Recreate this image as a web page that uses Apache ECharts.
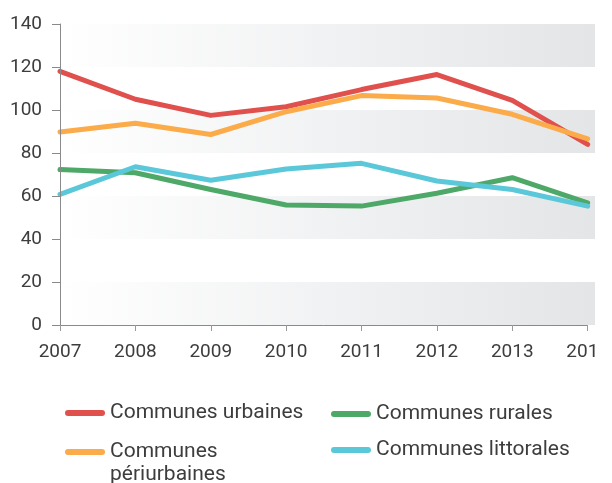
<!DOCTYPE html>
<html><head><meta charset="utf-8">
<script src="https://cdn.jsdelivr.net/npm/echarts@6/dist/echarts.min.js"></script>
<style>html,body{margin:0;padding:0;background:#fff;} #clip{width:598px;height:483px;overflow:hidden;} #main{width:612px;height:483px;}</style>
</head><body><div id="clip"><div id="main"></div></div>
<script>
const years = ['2007','2008','2009','2010','2011','2012','2013','2014'];
const urbaines = [118, 105, 97.5, 101.5, 109.5, 116.5, 104.5, 84];
const rurales = [72.3, 70.8, 63, 55.8, 55.3, 61.3, 68.5, 56.8];
const periurbaines = [89.8, 93.8, 88.6, 99.2, 106.7, 105.6, 98, 86.6];
const littorales = [60.8, 73.6, 67.3, 72.6, 75.2, 67, 63, 55.3];
const seriesNames = ['Communes urbaines','Communes rurales','Communes périurbaines','Communes littorales'];
const colors = ['#e0504d','#4ea868','#fbab4a','#5bc8d9'];
const yMin = 0, yMax = 140, yStep = 20;
const bands = [[0,20],[40,60],[80,100],[120,140]];

const font = 'Roboto';
const textColor = '#3d3d3d';
const icon = 'path://M3,0 L37,0 A3,3 0 0 1 37,6 L3,6 A3,3 0 0 1 3,0 Z';
function legend(name, left, top, extraText) {
  return {
    data: [name], left: left, top: top, padding: 0, itemWidth: 40, itemHeight: 6,
    icon: icon, selectedMode: false,
    textStyle: Object.assign({fontFamily: font, fontSize: 21, color: textColor}, extraText || {})
  };
}

const chart = echarts.init(document.getElementById('main'), null, {renderer: 'canvas'});
const lineSeries = [urbaines, rurales, periurbaines, littorales].map((d, i) => ({
  name: seriesNames[i], type: 'line', data: d, xAxisIndex: 0, yAxisIndex: 0,
  symbol: 'none', smooth: false, z: 3,
  lineStyle: {width: 5, color: colors[i], cap: 'round', join: 'round'},
  itemStyle: {color: colors[i]}
}));

const bandGradient = {type: 'linear', x: 0, y: 0, x2: 1, y2: 0,
  colorStops: [{offset: 0, color: '#ffffff'}, {offset: 0.5, color: '#f1f2f3'}, {offset: 1, color: '#e4e5e7'}]};

// leading blank line keeps the first text line level with the legend icon
const pLegend = legend('Communes périurbaines', 65, 417.5, {lineHeight: 23});
pLegend.formatter = function (n) { return '\n' + n.replace(' ', '\n'); };

chart.setOption({
  animation: false,
  backgroundColor: '#ffffff',
  grid: [
    {left: 60, right: 23, top: 24, bottom: 158},
    {left: 60, right: 17, top: 24, bottom: 158}
  ],
  xAxis: [
    {type: 'category', gridIndex: 0, data: years, boundaryGap: false, z: 5,
     axisLine: {lineStyle: {color: '#8a8a8a', width: 1}},
     axisTick: {alignWithLabel: true, length: 6, lineStyle: {color: '#9a9a9a'}},
     axisLabel: {fontFamily: font, fontSize: 19, color: textColor, margin: 18},
     splitLine: {show: false}},
    {type: 'value', gridIndex: 1, min: 0, max: 1, show: false}
  ],
  yAxis: [
    {type: 'value', gridIndex: 0, min: yMin, max: yMax, interval: yStep, z: 5,
     axisLine: {show: true, lineStyle: {color: '#8a8a8a', width: 1}},
     axisTick: {show: true, length: 8, lineStyle: {color: '#8a8a8a'}},
     axisLabel: {fontFamily: font, fontSize: 19, color: textColor, margin: 18},
     splitLine: {show: false}},
    {type: 'value', gridIndex: 1, min: yMin, max: yMax, show: false}
  ],
  legend: [
    legend('Communes urbaines', 65, 402.5),
    legend('Communes rurales', 331, 403.5),
    pLegend,
    legend('Communes littorales', 331, 439.5)
  ],
  series: [
    {type: 'line', xAxisIndex: 1, yAxisIndex: 1, data: [[0, 0]], symbol: 'none',
     lineStyle: {opacity: 0}, silent: true, z: -1,
     markArea: {silent: true, itemStyle: {color: bandGradient, borderWidth: 0},
       data: bands.map(b => [{yAxis: b[0]}, {yAxis: b[1]}])}}
  ].concat(lineSeries)
});
</script></body></html>
